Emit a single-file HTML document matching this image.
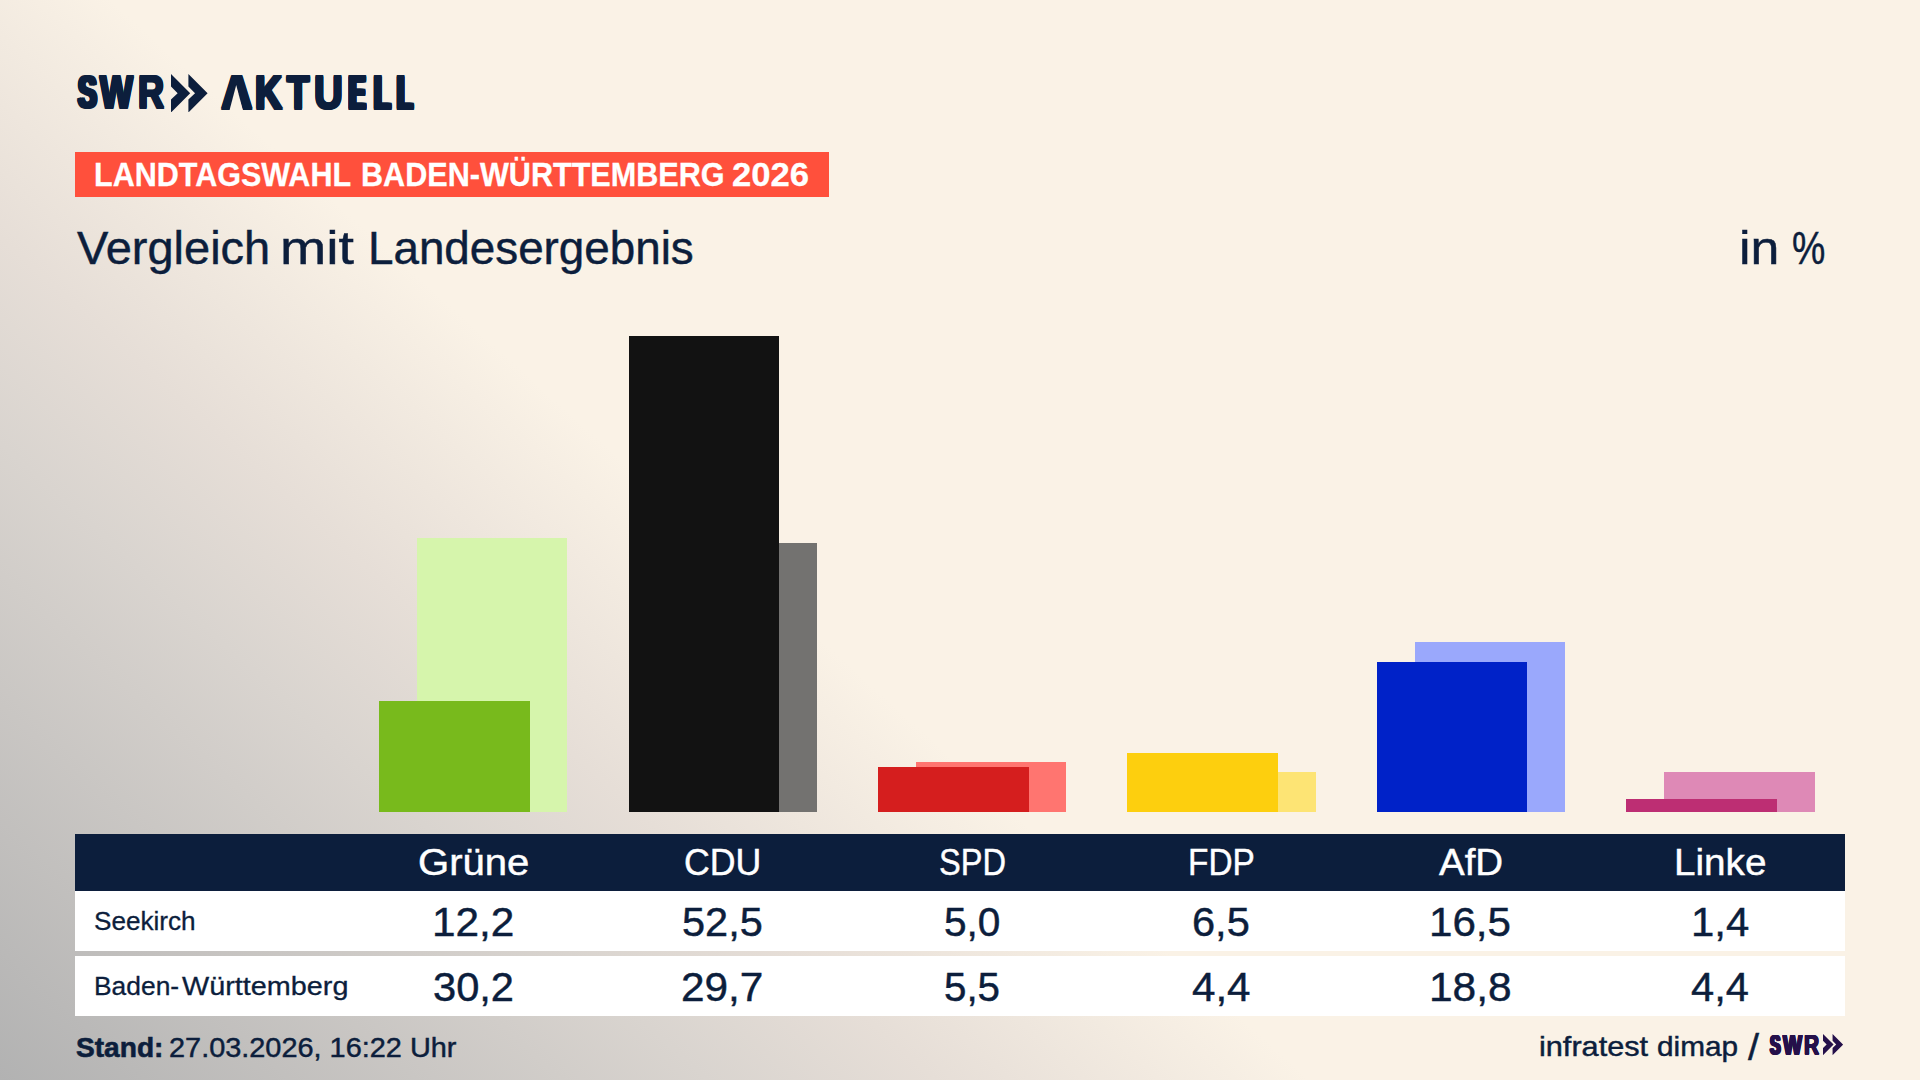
<!DOCTYPE html>
<html lang="de">
<head>
<meta charset="utf-8">
<title>Landtagswahl Baden-Württemberg 2026 – Vergleich mit Landesergebnis</title>
<style>
html,body{margin:0;padding:0}
body{width:1920px;height:1080px;overflow:hidden;position:relative;font-family:"Liberation Sans",sans-serif;
background:#faf2e6 linear-gradient(42deg,#b2b2b2 0%,#d9d4cf 22.7%,#e6ded7 30%,#faf2e6 42%);}
.t{position:absolute;display:block;white-space:nowrap;line-height:1;transform-origin:0 0;margin:0}
.bar,.box,.chev{position:absolute}
.c{display:inline-block;transform-origin:0 0}
</style>
</head>
<body>
<header>
<span id="swr" class="t" style="left:78.34px;top:69.02px;font-size:46.95px;font-weight:bold;color:#0c1e3c;"><span class="c" style="width:21.96px;transform:scaleX(0.5978);text-shadow:2.98px 0,-2.98px 0,0 1.30px,0 -1.30px,2.98px 1.30px,2.98px -1.30px,-2.98px 1.30px,-2.98px -1.30px">S</span><span class="c" style="width:37.45px;transform:scaleX(0.7397);text-shadow:1.76px 0,-1.76px 0,0 1.30px,0 -1.30px,1.76px 1.30px,1.76px -1.30px,-1.76px 1.30px,-1.76px -1.30px">W</span><span class="c" style="width:28.45px;transform:scaleX(0.7677);text-shadow:1.44px 0,-1.44px 0,0 1.30px,0 -1.30px,1.44px 1.30px,1.44px -1.30px,-1.44px 1.30px,-1.44px -1.30px">R</span></span>
<svg class="chev" style="left:171.1px;top:73.5px" width="36.50" height="38.50" viewBox="0 0 36.5 38.5" fill="#0c1e3c"><polygon points="0,0 19.2,19.25 0,38.5 0,25.5 6.65,19.25 0,12.5"/><polygon points="17.4,0 36.6,19.25 17.4,38.5 17.4,25.5 24.05,19.25 17.4,12.5"/></svg>
<span id="akt" class="t" style="left:221.52px;top:68.02px;font-size:48.98px;font-weight:bold;color:#0c1e3c;"><span class="c" style="width:33.29px;transform:scaleX(0.8339);text-shadow:2.35px 0,-2.35px 0,0 0.55px,0 -0.55px,2.35px 0.55px,2.35px -0.55px,-2.35px 0.55px,-2.35px -0.55px">A</span><span class="c" style="width:32.08px;transform:scaleX(0.7652);text-shadow:1.50px 0,-1.50px 0,0 0.55px,0 -0.55px,1.50px 0.55px,1.50px -0.55px,-1.50px 0.55px,-1.50px -0.55px">K</span><span class="c" style="width:27.07px;transform:scaleX(0.7414);text-shadow:1.73px 0,-1.73px 0,0 0.55px,0 -0.55px,1.73px 0.55px,1.73px -0.55px,-1.73px 0.55px,-1.73px -0.55px">T</span><span class="c" style="width:35.26px;transform:scaleX(0.8150);text-shadow:1.26px 0,-1.26px 0,0 0.55px,0 -0.55px,1.26px 0.55px,1.26px -0.55px,-1.26px 0.55px,-1.26px -0.55px">U</span><span class="c" style="width:24.94px;transform:scaleX(0.4985);text-shadow:4.30px 0,-4.30px 0,0 0.55px,0 -0.55px,4.30px 0.55px,4.30px -0.55px,-4.30px 0.55px,-4.30px -0.55px,2.15px 0,-2.15px 0,2.15px 0.55px,2.15px -0.55px,-2.15px 0.55px,-2.15px -0.55px">E</span><span class="c" style="width:22.47px;transform:scaleX(0.5536);text-shadow:3.52px 0,-3.52px 0,0 0.55px,0 -0.55px,3.52px 0.55px,3.52px -0.55px,-3.52px 0.55px,-3.52px -0.55px,1.76px 0,-1.76px 0,1.76px 0.55px,1.76px -0.55px,-1.76px 0.55px,-1.76px -0.55px">L</span><span class="c" style="width:19.37px;transform:scaleX(0.5272);text-shadow:3.87px 0,-3.87px 0,0 0.55px,0 -0.55px,3.87px 0.55px,3.87px -0.55px,-3.87px 0.55px,-3.87px -0.55px,1.94px 0,-1.94px 0,1.94px 0.55px,1.94px -0.55px,-1.94px 0.55px,-1.94px -0.55px">L</span></span>
<svg class="chev" style="left:220px;top:78px" width="34" height="36" viewBox="220 78 34 36" aria-hidden="true"><polygon points="236.2,85.1 229.2,111.5 243.2,111.5" fill="#faf2e6"/></svg>
</header>
<section class="banner">
<div class="box" style="left:75px;top:152.1px;width:753.9px;height:44.5px;background:#ff503c"></div>
<h2 id="ban" class="t" style="left:93.83px;top:157.02px;font-size:34.01px;font-weight:bold;color:#fff;-webkit-text-stroke:0.3px #fff;"><span class="c" style="width:267.50px;transform:scaleX(0.8975)">LANDTAGSWAHL </span><span class="c" style="width:371.05px;transform:scaleX(0.8995)">BADEN-WÜRTTEMBERG </span><span class="c" style="width:78.38px;transform:scaleX(1.0189)">2026</span></h2>
</section>
<section class="title">
<h1 id="ttl" class="t" style="left:77.13px;top:226.02px;font-size:45.71px;font-weight:normal;color:#0c1e3c;-webkit-text-stroke:0.45px #0c1e3c;"><span class="c" style="width:202.97px;transform:scaleX(1.0273)">Vergleich </span><span class="c" style="width:87.80px;transform:scaleX(1.2150)">mit </span><span class="c" style="width:326.60px;transform:scaleX(1.0015)">Landesergebnis</span></h1>
<span id="pct" class="t" style="left:1738.52px;top:226.02px;font-size:45.71px;font-weight:normal;color:#0c1e3c;-webkit-text-stroke:0.45px #0c1e3c;"><span class="c" style="width:53.30px;transform:scaleX(1.1339)">in </span><span class="c" style="width:34.39px;transform:scaleX(0.8198)">%</span></span>
</section>
<main class="chart">
<div class="bar" style="left:416.7px;top:538.2px;width:150.6px;height:273.8px;background:#d6f5ac"></div>
<div class="bar" style="left:379.0px;top:701.4px;width:150.7px;height:110.6px;background:#78ba1c"></div>
<div class="bar" style="left:666.1px;top:542.7px;width:150.6px;height:269.3px;background:#737270"></div>
<div class="bar" style="left:628.5px;top:336.0px;width:150.7px;height:476.0px;background:#121212"></div>
<div class="bar" style="left:915.6px;top:762.1px;width:150.6px;height:49.9px;background:#ff7570"></div>
<div class="bar" style="left:877.9px;top:766.7px;width:150.7px;height:45.3px;background:#d51e1e"></div>
<div class="bar" style="left:1165.0px;top:772.1px;width:150.6px;height:39.9px;background:#fde474"></div>
<div class="bar" style="left:1127.3px;top:753.1px;width:150.7px;height:58.9px;background:#fdcf0e"></div>
<div class="bar" style="left:1414.5px;top:641.5px;width:150.6px;height:170.5px;background:#9aa8fc"></div>
<div class="bar" style="left:1376.8px;top:662.4px;width:150.7px;height:149.6px;background:#0022c8"></div>
<div class="bar" style="left:1664.0px;top:772.1px;width:150.6px;height:39.9px;background:#de89b6"></div>
<div class="bar" style="left:1626.2px;top:799.3px;width:150.7px;height:12.7px;background:#bd2e73"></div>
</main>
<section class="table">
<div class="box" style="left:75px;top:834px;width:1770px;height:56.5px;background:#0c1e3c"></div>
<div class="box" style="left:75px;top:890.5px;width:1770px;height:60.5px;background:#fff"></div>
<div class="box" style="left:75px;top:956px;width:1770px;height:60px;background:#fff"></div>
<span id="h0" class="t" style="left:417.56px;top:844.02px;font-size:37.57px;font-weight:normal;color:#fff;-webkit-text-stroke:0.45px #fff;transform:scaleX(1.0661)">Grüne</span>
<span id="h1" class="t" style="left:683.54px;top:844.02px;font-size:37.57px;font-weight:normal;color:#fff;-webkit-text-stroke:0.45px #fff;transform:scaleX(0.9503)">CDU</span>
<span id="h2" class="t" style="left:938.78px;top:844.02px;font-size:37.57px;font-weight:normal;color:#fff;-webkit-text-stroke:0.45px #fff;transform:scaleX(0.8668)">SPD</span>
<span id="h3" class="t" style="left:1188.19px;top:844.02px;font-size:37.57px;font-weight:normal;color:#fff;-webkit-text-stroke:0.45px #fff;transform:scaleX(0.8885)">FDP</span>
<span id="h4" class="t" style="left:1439.43px;top:844.02px;font-size:37.57px;font-weight:normal;color:#fff;-webkit-text-stroke:0.45px #fff;transform:scaleX(1.0247)">AfD</span>
<span id="h5" class="t" style="left:1673.91px;top:844.02px;font-size:37.57px;font-weight:normal;color:#fff;-webkit-text-stroke:0.45px #fff;transform:scaleX(1.0290)">Linke</span>
<span id="l1" class="t" style="left:94.14px;top:909.02px;font-size:25.44px;font-weight:normal;color:#0c1e3c;-webkit-text-stroke:0.3px #0c1e3c;transform:scaleX(1.0262)">Seekirch</span>
<span id="a0" class="t" style="left:431.99px;top:902.02px;font-size:41.21px;font-weight:normal;color:#0c1e3c;-webkit-text-stroke:0.45px #0c1e3c;transform:scaleX(1.0273)">12,2</span>
<span id="a1" class="t" style="left:682.23px;top:902.02px;font-size:41.21px;font-weight:normal;color:#0c1e3c;-webkit-text-stroke:0.45px #0c1e3c;transform:scaleX(1.0065)">52,5</span>
<span id="a2" class="t" style="left:944.35px;top:902.02px;font-size:41.21px;font-weight:normal;color:#0c1e3c;-webkit-text-stroke:0.45px #0c1e3c;transform:scaleX(0.9851)">5,0</span>
<span id="a3" class="t" style="left:1191.58px;top:902.02px;font-size:41.21px;font-weight:normal;color:#0c1e3c;-webkit-text-stroke:0.45px #0c1e3c;transform:scaleX(1.0086)">6,5</span>
<span id="a4" class="t" style="left:1429.30px;top:902.02px;font-size:41.21px;font-weight:normal;color:#0c1e3c;-webkit-text-stroke:0.45px #0c1e3c;transform:scaleX(1.0221)">16,5</span>
<span id="a5" class="t" style="left:1690.91px;top:902.02px;font-size:41.21px;font-weight:normal;color:#0c1e3c;-webkit-text-stroke:0.45px #0c1e3c;transform:scaleX(1.0160)">1,4</span>
<span id="l2" class="t" style="left:93.69px;top:974.02px;font-size:25.44px;font-weight:normal;color:#0c1e3c;-webkit-text-stroke:0.3px #0c1e3c;"><span class="c" style="width:87.98px;transform:scaleX(1.0374)">Baden-</span><span class="c" style="width:167.03px;transform:scaleX(1.1323)">Württemberg</span></span>
<span id="b0" class="t" style="left:433.33px;top:967.02px;font-size:41.21px;font-weight:normal;color:#0c1e3c;-webkit-text-stroke:0.45px #0c1e3c;transform:scaleX(1.0103)">30,2</span>
<span id="b1" class="t" style="left:680.55px;top:967.02px;font-size:41.21px;font-weight:normal;color:#0c1e3c;-webkit-text-stroke:0.45px #0c1e3c;transform:scaleX(1.0278)">29,7</span>
<span id="b2" class="t" style="left:944.36px;top:967.02px;font-size:41.21px;font-weight:normal;color:#0c1e3c;-webkit-text-stroke:0.45px #0c1e3c;transform:scaleX(0.9785)">5,5</span>
<span id="b3" class="t" style="left:1192.27px;top:967.02px;font-size:41.21px;font-weight:normal;color:#0c1e3c;-webkit-text-stroke:0.45px #0c1e3c;transform:scaleX(1.0220)">4,4</span>
<span id="b4" class="t" style="left:1429.28px;top:967.02px;font-size:41.21px;font-weight:normal;color:#0c1e3c;-webkit-text-stroke:0.45px #0c1e3c;transform:scaleX(1.0300)">18,8</span>
<span id="b5" class="t" style="left:1691.28px;top:967.02px;font-size:41.21px;font-weight:normal;color:#0c1e3c;-webkit-text-stroke:0.45px #0c1e3c;transform:scaleX(1.0095)">4,4</span>
</section>
<footer>
<span id="st1" class="t" style="left:76.26px;top:1033.02px;font-size:28.49px;font-weight:bold;color:#0c1e3c;-webkit-text-stroke:0.6px #0c1e3c;transform:scaleX(0.9871)">Stand:</span>
<span id="st2" class="t" style="left:169.39px;top:1035.02px;font-size:26.82px;font-weight:normal;color:#0c1e3c;-webkit-text-stroke:0.45px #0c1e3c;transform:scaleX(1.0772)">27.03.2026, 16:22 Uhr</span>
<span id="src" class="t" style="left:1538.94px;top:1033.02px;font-size:27.25px;font-weight:normal;color:#0c1e3c;-webkit-text-stroke:0.45px #0c1e3c;"><span class="c" style="width:118.48px;transform:scaleX(1.1256)">infratest </span><span class="c" style="width:82.08px;transform:scaleX(1.0920)">dimap</span></span>
<span id="sl" class="t" style="left:1747.84px;top:1030.02px;font-size:36.70px;font-weight:normal;color:#0c1e3c;-webkit-text-stroke:0.45px #0c1e3c;transform:scaleX(1.0769)">/</span>
<span id="swr2" class="t" style="left:1770.32px;top:1031.02px;font-size:27.62px;font-weight:bold;color:#25104a;"><span class="c" style="width:12.23px;transform:scaleX(0.5721);text-shadow:1.68px 0,-1.68px 0,0 0.50px,0 -0.50px,1.68px 0.50px,1.68px -0.50px,-1.68px 0.50px,-1.68px -0.50px">S</span><span class="c" style="width:21.48px;transform:scaleX(0.7294);text-shadow:0.89px 0,-0.89px 0,0 0.50px,0 -0.50px,0.89px 0.50px,0.89px -0.50px,-0.89px 0.50px,-0.89px -0.50px">W</span><span class="c" style="width:17.27px;transform:scaleX(0.7582);text-shadow:0.72px 0,-0.72px 0,0 0.50px,0 -0.50px,0.72px 0.50px,0.72px -0.50px,-0.72px 0.50px,-0.72px -0.50px">R</span></span>
<svg class="chev" style="left:1823.3px;top:1034.0px" width="20.08" height="21.18" viewBox="0 0 36.5 38.5" fill="#25104a"><polygon points="0,0 19.2,19.25 0,38.5 0,25.5 6.65,19.25 0,12.5"/><polygon points="17.4,0 36.6,19.25 17.4,38.5 17.4,25.5 24.05,19.25 17.4,12.5"/></svg>
</footer>
</body>
</html>
